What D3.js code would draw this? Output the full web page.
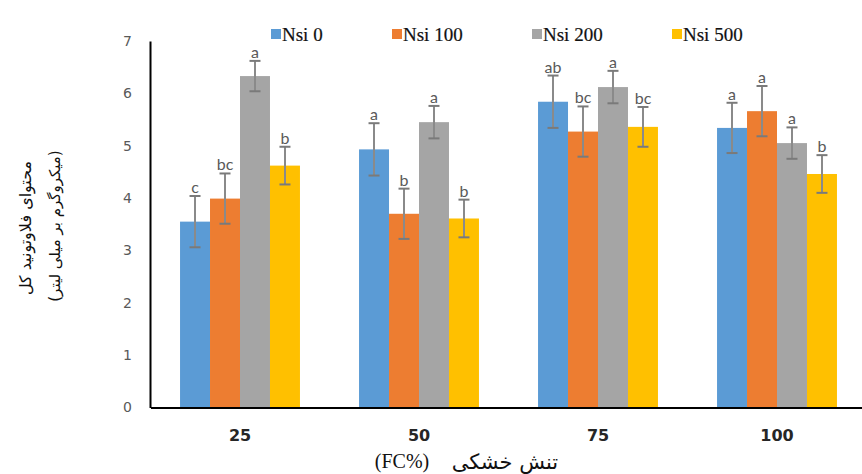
<!DOCTYPE html>
<html>
<head>
<meta charset="utf-8">
<script src="https://cdn.jsdelivr.net/npm/d3@7/dist/d3.min.js"></script>
<style>
  html, body { margin: 0; padding: 0; background: #fff; }
  svg { display: block; }
</style>
</head>
<body>
<div id="chart"></div>
<script>
// data
var categories = ['25', '50', '75', '100']
var seriesNames = ['Nsi 0', 'Nsi 100', 'Nsi 200', 'Nsi 500']
var nsi0 = [3.55, 4.93, 5.84, 5.34]
var nsi100 = [3.99, 3.70, 5.27, 5.66]
var nsi200 = [6.33, 5.45, 6.12, 5.05]
var nsi500 = [4.62, 3.61, 5.36, 4.46]
var err0 = [0.49, 0.50, 0.50, 0.48]
var err100 = [0.48, 0.48, 0.48, 0.48]
var err200 = [0.29, 0.31, 0.31, 0.30]
var err500 = [0.36, 0.36, 0.38, 0.36]
var letters0 = ['c', 'a', 'ab', 'a']
var letters100 = ['bc', 'b', 'bc', 'a']
var letters200 = ['a', 'a', 'a', 'a']
var letters500 = ['b', 'b', 'bc', 'b']
var yTicks = [0, 1, 2, 3, 4, 5, 6, 7]
var colors = ['#5B9BD5', '#ED7D31', '#A5A5A5', '#FFC000']

var values = [nsi0, nsi100, nsi200, nsi500]
var errors = [err0, err100, err200, err500]
var letters = [letters0, letters100, letters200, letters500]

var rows = []
categories.forEach(function (c, ci) {
  seriesNames.forEach(function (s, si) {
    rows.push({
      cat: c,
      series: s,
      value: values[si][ci],
      err: errors[si][ci],
      letter: letters[si][ci],
      color: colors[si]
    })
  })
})

var W = 862, H = 474

var svg = d3.select('#chart').append('svg')
  .attr('width', W)
  .attr('height', H)

var x0 = d3.scaleBand().domain(categories).range([150.5, 866.5]).padding(0)
var x1 = d3.scaleBand().domain(seriesNames)
  .range([x0.bandwidth() * 0.165, x0.bandwidth() * 0.835])
var y = d3.scaleLinear().domain([0, 7]).range([407.5, 41])

// bars
svg.append('g')
  .selectAll('rect')
  .data(rows)
  .enter()
  .append('rect')
  .attr('x', function (d) { return x0(d.cat) + x1(d.series) })
  .attr('y', function (d) { return y(d.value) })
  .attr('width', x1.bandwidth())
  .attr('height', function (d) { return y(0) - y(d.value) })
  .attr('fill', function (d) { return d.color })

// error bars
var eb = svg.append('g').selectAll('g')
  .data(rows)
  .enter()
  .append('g')
  .attr('transform', function (d) {
    return 'translate(' + (x0(d.cat) + x1(d.series) + x1.bandwidth() / 2) + ',0)'
  })

eb.append('line')
  .attr('x1', 0).attr('x2', 0)
  .attr('y1', function (d) { return y(d.value + d.err) })
  .attr('y2', function (d) { return y(d.value - d.err) })
  .attr('stroke', '#8a8a8a')
  .attr('stroke-width', 2)

eb.selectAll('.cap')
  .data(function (d) { return [d.value + d.err, d.value - d.err] })
  .enter()
  .append('line')
  .attr('class', 'cap')
  .attr('x1', -5.5).attr('x2', 5.5)
  .attr('y1', function (v) { return y(v) })
  .attr('y2', function (v) { return y(v) })
  .attr('stroke', '#7a7a7a')
  .attr('stroke-width', 2)

eb.append('text')
  .attr('y', function (d) { return y(d.value + d.err) - 3 })
  .attr('text-anchor', 'middle')
  .style('font-family', 'Lato, "Open Sans", sans-serif')
  .style('font-size', '16px')
  .style('fill', '#595959')
  .text(function (d) { return d.letter })

// axes
var yAxis = svg.append('g')
  .attr('transform', 'translate(150,0)')
  .call(d3.axisLeft(y).tickValues(yTicks).tickFormat(d3.format('d')).tickSize(0).tickPadding(18))
yAxis.select('.domain').attr('stroke', '#000').attr('stroke-width', 2)
yAxis.selectAll('text')
  .style('font-family', '"DejaVu Sans", sans-serif')
  .style('font-size', '14px')
  .style('fill', '#595959')

var xAxis = svg.append('g')
  .attr('transform', 'translate(0,' + y(0) + ')')
  .call(d3.axisBottom(x0).tickSize(0).tickPadding(22))
xAxis.select('.domain').attr('stroke', '#000').attr('stroke-width', 2)
xAxis.selectAll('text')
  .style('font-family', '"DejaVu Sans", sans-serif')
  .style('font-weight', 'bold')
  .style('font-size', '16px')
  .style('fill', '#262626')

// legend
var legendX = [271, 392, 532, 672]
var legend = svg.append('g').selectAll('g')
  .data(seriesNames)
  .enter()
  .append('g')
  .attr('transform', function (d, i) { return 'translate(' + legendX[i] + ',0)' })

legend.append('rect')
  .attr('y', 29)
  .attr('width', 10)
  .attr('height', 10)
  .attr('fill', function (d, i) { return colors[i] })

legend.append('text')
  .attr('x', 11)
  .attr('y', 41)
  .style('font-family', '"Liberation Serif", "Times New Roman", serif')
  .style('font-size', '19px')
  .style('fill', '#111')
  .style('stroke', '#111')
  .style('stroke-width', 0.2)
  .text(function (d) { return d })

// axis titles
svg.append('text')
  .attr('transform', 'translate(25,228) rotate(-90)')
  .attr('text-anchor', 'middle')
  .attr('dominant-baseline', 'central')
  .style('font-family', '"DejaVu Sans", sans-serif')
  .style('font-size', '16px')
  .style('fill', '#111')
  .text('محتوای فلاوتونید کل')

svg.append('text')
  .attr('transform', 'translate(55,226) rotate(-90)')
  .attr('text-anchor', 'middle')
  .attr('dominant-baseline', 'central')
  .style('font-family', '"DejaVu Sans", sans-serif')
  .style('font-size', '15px')
  .style('fill', '#111')
  .text('(میکروگرم بر میلی لیتر)')

svg.append('text')
  .attr('x', 402)
  .attr('y', 468)
  .attr('text-anchor', 'middle')
  .style('font-family', '"Liberation Serif", "Times New Roman", serif')
  .style('font-size', '20px')
  .style('fill', '#111')
  .text('(FC%)')

svg.append('text')
  .attr('x', 505)
  .attr('y', 469)
  .attr('text-anchor', 'middle')
  .style('font-family', '"DejaVu Sans", sans-serif')
  .style('font-size', '21px')
  .style('fill', '#111')
  .text('تنش خشکی')
</script>
</body>
</html>
